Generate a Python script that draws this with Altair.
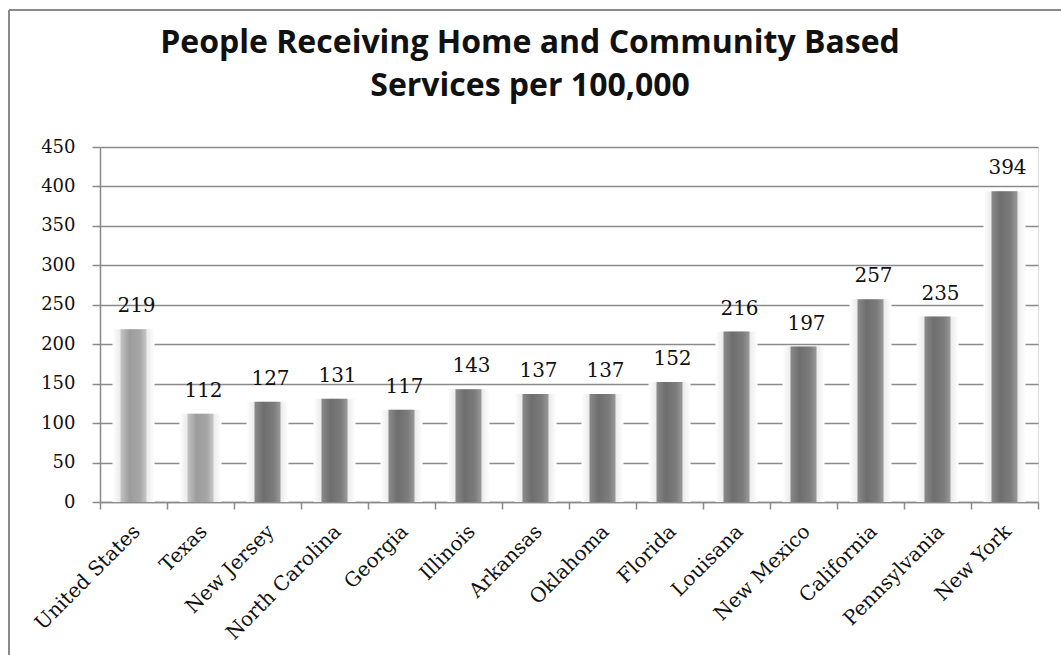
import altair as alt
import pandas as pd

states = ["United States", "Texas", "New Jersey", "North Carolina", "Georgia",
          "Illinois", "Arkansas", "Oklahoma", "Florida", "Louisana",
          "New Mexico", "California", "Pennsylvania", "New York"]
values = [219, 112, 127, 131, 117, 143, 137, 137, 152, 216, 197, 257, 235, 394]
groups = ["light", "light"] + ["dark"] * 12
y_ticks = [0, 50, 100, 150, 200, 250, 300, 350, 400, 450]
title_lines = ["People Receiving Home and Community Based", "Services per 100,000"]

df = pd.DataFrame({"state": states, "value": values, "group": groups})

SERIF = "DejaVu Serif"
GRID = "#8a8a8a"

x_enc = alt.X("state:N", sort=states, title=None,
              scale=alt.Scale(paddingInner=0, paddingOuter=0),
              axis=alt.Axis(labelAngle=-45, labelAlign="right", labelBaseline="middle",
                            labelFont=SERIF, labelFontSize=20, labelColor="#111",
                            labelPadding=19, labelOffset=3,
                            tickBand="extent", tickSize=7, tickColor=GRID, tickWidth=1.5,
                            domainColor=GRID, domainWidth=1.5, grid=False))
y_enc = alt.Y("value:Q", title=None,
              scale=alt.Scale(domain=[0, 450], nice=False),
              axis=alt.Axis(values=y_ticks, labelFont=SERIF, labelFontSize=18,
                            labelColor="#111", labelPadding=17,
                            tickSize=8, tickColor=GRID, tickWidth=1.5,
                            domainColor=GRID, domainWidth=1.5,
                            grid=True, gridColor=GRID, gridWidth=1.5))

base = alt.Chart(df)

glow = base.mark_bar(size=42, color=alt.Gradient(
    gradient="linear", x1=0, x2=1, y1=0, y2=0,
    stops=[alt.GradientStop(offset=0, color="#ffffff"),
           alt.GradientStop(offset=0.3, color="#dedede"),
           alt.GradientStop(offset=0.7, color="#dedede"),
           alt.GradientStop(offset=1, color="#ffffff")])).encode(x=x_enc, y=y_enc)

dark = base.transform_filter(alt.datum.group == "dark").mark_bar(size=26, color=alt.Gradient(
    gradient="linear", x1=0, x2=1, y1=0, y2=0,
    stops=[alt.GradientStop(offset=0, color="#8a8a8a"),
           alt.GradientStop(offset=0.35, color="#6e6e6e"),
           alt.GradientStop(offset=0.75, color="#7c7c7c"),
           alt.GradientStop(offset=1, color="#9a9a9a")])).encode(x=x_enc, y=y_enc)

light = base.transform_filter(alt.datum.group == "light").mark_bar(size=26, color=alt.Gradient(
    gradient="linear", x1=0, x2=1, y1=0, y2=0,
    stops=[alt.GradientStop(offset=0, color="#c4c4c4"),
           alt.GradientStop(offset=0.35, color="#9c9c9c"),
           alt.GradientStop(offset=0.75, color="#a6a6a6"),
           alt.GradientStop(offset=1, color="#c8c8c8")])).encode(x=x_enc, y=y_enc)

labels = base.mark_text(font=SERIF, fontSize=20, color="#111", dy=-17,
                        baseline="alphabetic", align="center", dx=3).encode(
    x=x_enc, y=y_enc, text=alt.Text("value:Q"))

dummy = alt.Chart(pd.DataFrame({"a": [0]}))


def title_line(i, ypix):
    return dummy.mark_text(font="Open Sans", fontSize=32, fontWeight="bold",
                           color="#111", align="center", baseline="alphabetic",
                           text=title_lines[i]).encode(x=alt.value(430), y=alt.value(ypix))


title1 = title_line(0, -94)
title2 = title_line(1, -51)

border_left = dummy.mark_rule(color="#8a8a8a", strokeWidth=2).encode(
    x=alt.value(-91), y=alt.value(-137), y2=alt.value(520))
border_top = dummy.mark_rule(color="#8a8a8a", strokeWidth=2).encode(
    x=alt.value(-91), x2=alt.value(970), y=alt.value(-137))

chart = alt.layer(glow, dark, light, labels, title1, title2, border_left, border_top).properties(
    width=938, height=355,
    autosize=alt.AutoSizeParams(type="none"),
    padding={"left": 100, "top": 147, "right": 23, "bottom": 153},
).configure_view(stroke=None).configure(background="white")

chart.save("out.html", embed_options={"renderer": "svg", "actions": False})
